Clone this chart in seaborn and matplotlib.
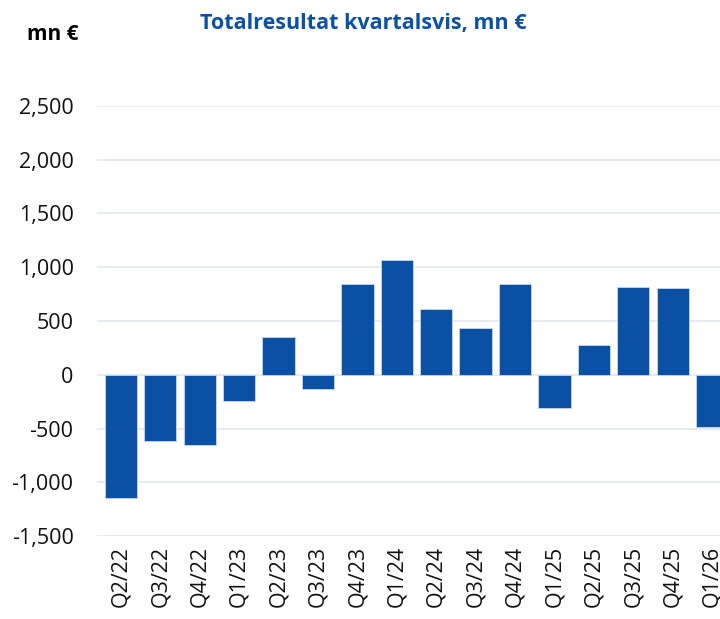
import matplotlib
matplotlib.use("Agg")
import matplotlib.pyplot as plt
import seaborn as sns
import pandas as pd

# Données (mn €)
quarters = ["Q2/22", "Q3/22", "Q4/22", "Q1/23", "Q2/23", "Q3/23", "Q4/23", "Q1/24",
            "Q2/24", "Q3/24", "Q4/24", "Q1/25", "Q2/25", "Q3/25", "Q4/25", "Q1/26"]
results = [-1145, -620, -655, -240, 350, -135, 840, 1065,
           615, 430, 840, -310, 280, 820, 805, -490]
y_ticks = [-1500, -1000, -500, 0, 500, 1000, 1500, 2000, 2500]

df = pd.DataFrame({"Quarter": quarters, "Result": results})

sns.set_theme(style="white")
plt.rcParams['font.family'] = ['Open Sans', 'DejaVu Sans']

blue = "#0a50a5"

fig = plt.figure(figsize=(7.2, 6.19), dpi=100)
ax = fig.add_axes([0.135, 0.134, 0.865, 0.695])

sns.barplot(data=df, x="Quarter", y="Result", color=blue, saturation=1,
            width=0.82, edgecolor="#c9d6ea", linewidth=0.6, ax=ax, zorder=3)

ax.set_ylim(-1500, 2500)
ax.set_xlim(-0.6, 15.2)
ax.set_yticks(y_ticks)
ax.set_yticklabels([f"{v:,}" for v in y_ticks], fontsize=15.5, color="#111111")
ax.tick_params(axis="x", labelrotation=90, labelsize=15.5, labelcolor="#111111", length=0, pad=7)
ax.tick_params(axis="y", length=0, pad=17)
ax.grid(axis="y", color="#e3e6ec", linewidth=1.2, zorder=0)
ax.set_axisbelow(True)
for s in ax.spines.values():
    s.set_visible(False)
ax.set_xlabel("")
ax.set_ylabel("")

fig.text(0.038, 0.945, "mn €", fontsize=15, fontweight="bold", color="black", va="center")
fig.text(0.505, 0.962, "Totalresultat kvartalsvis, mn €", fontsize=15.5, fontweight="bold",
         color=blue, ha="center", va="center")

fig.savefig("out.png", dpi=100)
